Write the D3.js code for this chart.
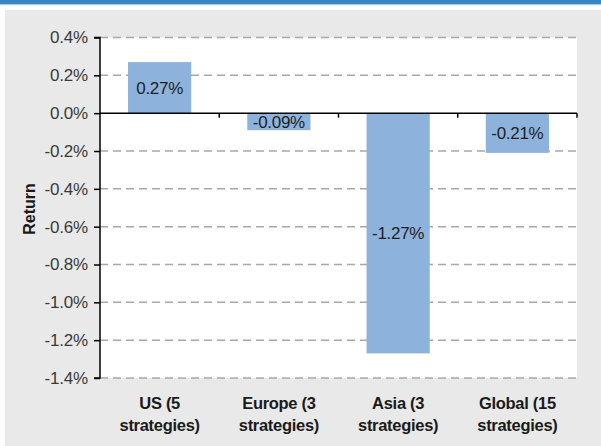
<!DOCTYPE html>
<html><head><meta charset="utf-8">
<script src="https://cdn.jsdelivr.net/npm/d3@7"></script>
<style>
html,body{margin:0;padding:0;background:#fff;}
svg{display:block;}
text{font-family:"Liberation Sans",Arial,sans-serif;}
</style></head>
<body>
<svg id="chart" width="601" height="446"></svg>
<script>
const categories = ["US (5 strategies)", "Europe (3 strategies)", "Asia (3 strategies)", "Global (15 strategies)"];
const categoryLines = [["US (5", "strategies)"], ["Europe (3", "strategies)"], ["Asia (3", "strategies)"], ["Global (15", "strategies)"]];
const returns = [0.27, -0.09, -1.27, -0.21];
const barLabels = ["0.27%", "-0.09%", "-1.27%", "-0.21%"];
const yTicks = [0.4, 0.2, 0.0, -0.2, -0.4, -0.6, -0.8, -1.0, -1.2, -1.4];
const yTickLabels = ["0.4%", "0.2%", "0.0%", "-0.2%", "-0.4%", "-0.6%", "-0.8%", "-1.0%", "-1.2%", "-1.4%"];
const yTitle = "Return";

const svg = d3.select("#chart");
const W = 601, H = 446;
const plot = {left: 100, right: 577, top: 37.5, bottom: 378};

// header band
svg.append("rect").attr("x", 0).attr("y", 0).attr("width", W).attr("height", 4).attr("fill", "#3a86c0");
svg.append("rect").attr("x", 0).attr("y", 4).attr("width", W).attr("height", 1.2).attr("fill", "#a9cbe6");
// gray panel
svg.append("rect").attr("x", 5).attr("y", 10).attr("width", W - 5).attr("height", H - 10).attr("fill", "#e9e9e9");
// plot area
svg.append("rect").attr("x", plot.left).attr("y", plot.top).attr("width", plot.right - plot.left).attr("height", plot.bottom - plot.top).attr("fill", "#ffffff");

const x = d3.scaleBand().domain(categories).range([plot.left, plot.right]).paddingInner(0.47).paddingOuter(0.235);
const y = d3.scaleLinear().domain([-1.4, 0.4]).range([plot.bottom, plot.top]);

// gridlines
svg.append("g").selectAll("line").data(yTicks.filter(d => d !== 0)).join("line")
  .attr("x1", plot.left).attr("x2", plot.right)
  .attr("y1", d => y(d)).attr("y2", d => y(d))
  .attr("stroke", "#a8a8a8").attr("stroke-width", 1.5).attr("stroke-dasharray", "8,5");

// bars
svg.append("g").selectAll("rect").data(returns).join("rect")
  .attr("x", (d, i) => x(categories[i]))
  .attr("width", x.bandwidth())
  .attr("y", d => y(Math.max(0, d)))
  .attr("height", d => Math.abs(y(d) - y(0)))
  .attr("fill", "#8db3dc");

// bar labels
svg.append("g").selectAll("text").data(returns).join("text")
  .attr("x", (d, i) => x(categories[i]) + x.bandwidth() / 2)
  .attr("y", d => (y(d) + y(0)) / 2)
  .attr("dy", "0.35em")
  .attr("text-anchor", "middle")
  .attr("font-size", 17)
  .attr("letter-spacing", "-0.3")
  .attr("fill", "#1e1e1e")
  .text((d, i) => barLabels[i]);

// y axis
const yAxis = d3.axisLeft(y).tickValues(yTicks).tickSize(6).tickPadding(6)
  .tickFormat((d, i) => yTickLabels[i]);
const yg = svg.append("g").attr("transform", `translate(${plot.left},0)`).call(yAxis);
yg.select(".domain").attr("stroke", "#000").attr("stroke-width", 1.5).attr("d", `M-6,${y(0.4)}H0V${y(-1.4)}H-6`);
yg.selectAll(".tick line").attr("stroke", "#000").attr("stroke-width", 1.5);
yg.selectAll(".tick text").attr("font-size", 17).attr("letter-spacing", "-0.2")
  .attr("fill", "#3a3a3a").attr("font-family", "'Liberation Sans',Arial,sans-serif");

// zero line with category boundary ticks
const zg = svg.append("g");
zg.append("line").attr("x1", plot.left).attr("x2", plot.right).attr("y1", y(0)).attr("y2", y(0))
  .attr("stroke", "#000").attr("stroke-width", 1.5);
const boundaries = categories.map(c => x(c) - x.step() * x.paddingInner() / 2).slice(1).concat([plot.right]);
zg.selectAll("line.b").data(boundaries).join("line").attr("class", "b")
  .attr("x1", d => d).attr("x2", d => d).attr("y1", y(0)).attr("y2", y(0) + 4.5)
  .attr("stroke", "#000").attr("stroke-width", 1.5);

// category labels
const cg = svg.append("g").selectAll("text").data(categoryLines).join("text")
  .attr("text-anchor", "middle")
  .attr("font-size", 16.5).attr("font-weight", "bold").attr("letter-spacing", "-0.3")
  .attr("fill", "#1a1a1a");
cg.each(function(lines, i) {
  const cx = x(categories[i]) + x.bandwidth() / 2;
  d3.select(this).selectAll("tspan").data(lines).join("tspan")
    .attr("x", cx).attr("y", (d, j) => 409 + j * 22).text(d => d);
});

// y title
svg.append("text").attr("transform", "translate(35,209) rotate(-90)")
  .attr("text-anchor", "middle").attr("font-size", 16).attr("font-weight", "bold")
  .attr("fill", "#1a1a1a").text(yTitle);
</script>
</body></html>
